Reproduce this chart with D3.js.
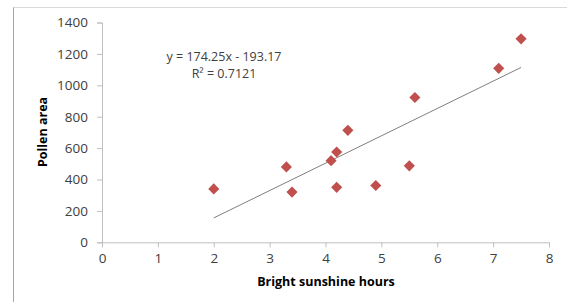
<!DOCTYPE html>
<html>
<head>
<meta charset="utf-8">
<script src="https://cdn.jsdelivr.net/npm/d3@7"></script>
<style>
	body { margin: 0; background: #fff; }
	svg text { font-family: "Open Sans", sans-serif; }
</style>
</head>
<body>
<svg id="chart" width="567" height="302"></svg>
<script>
// data
var sunshine = [ 2.0, 3.3, 3.4, 4.1, 4.2, 4.2, 4.4, 4.9, 5.5, 5.6, 7.1, 7.5 ];
var pollen   = [ 340, 480, 320, 520, 575, 350, 713, 362, 487, 922, 1108, 1296 ];
var xTicks   = [ 0, 1, 2, 3, 4, 5, 6, 7, 8 ];
var yTicks   = [ 0, 200, 400, 600, 800, 1000, 1200, 1400 ];
var trend    = { slope: 174.25, intercept: -193.17 };
var eqLines  = [ 'y = 174.25x - 193.17', 'R\u00b2 = 0.7121' ];

var svg    = d3.select( '#chart' );
var x      = d3.scaleLinear().domain( [ 0, 8 ] ).range( [ 102, 549 ] );
var y      = d3.scaleLinear().domain( [ 0, 1400 ] ).range( [ 242.3, 22.5 ] );
var axisC  = '#bfbfbf';
var textC  = '#404040';

// outer frame (top + left only visible)
svg.append( 'line' ).attr( 'x1', 13.5 ).attr( 'x2', 567 ).attr( 'y1', 7.5 ).attr( 'y2', 7.5 )
	.attr( 'stroke', '#d9d9d9' );
svg.append( 'line' ).attr( 'x1', 13.5 ).attr( 'x2', 13.5 ).attr( 'y1', 7.5 ).attr( 'y2', 302 )
	.attr( 'stroke', '#a6a6a6' );

// y axis
var yAxis = svg.append( 'g' )
	.attr( 'transform', 'translate(' + 102 + ',0)' )
	.call( d3.axisLeft( y ).tickValues( yTicks ).tickFormat( d3.format( 'd' ) ).tickSize( 5 ).tickPadding( 9 ) );
// x axis
var xAxis = svg.append( 'g' )
	.attr( 'transform', 'translate(0,' + y( 0 ) + ')' )
	.call( d3.axisBottom( x ).tickValues( xTicks ).tickFormat( d3.format( 'd' ) ).tickSize( 5 ).tickPadding( 6 ) );
[ yAxis, xAxis ].forEach( function( g ) {
	g.select( '.domain' ).attr( 'stroke', axisC );
	g.selectAll( '.tick line' ).attr( 'stroke', axisC );
	g.selectAll( '.tick text' )
		.attr( 'fill', textC )
		.style( 'font-size', '13.5px' )
		.style( 'font-family', '"Open Sans", sans-serif' );
} );

// trendline over the data range
var xr = d3.extent( sunshine );
svg.append( 'line' )
	.attr( 'x1', x( xr[ 0 ] ) )
	.attr( 'y1', y( trend.slope * xr[ 0 ] + trend.intercept ) )
	.attr( 'x2', x( xr[ 1 ] ) )
	.attr( 'y2', y( trend.slope * xr[ 1 ] + trend.intercept ) )
	.attr( 'stroke', '#7f7f7f' )
	.attr( 'stroke-width', 1 );

// points
var diamond = d3.symbol().type( d3.symbolSquare ).size( 62 );
svg.append( 'g' )
	.selectAll( 'path' )
	.data( sunshine.map( function( d, i ) { return [ d, pollen[ i ] ]; } ) )
	.join( 'path' )
	.attr( 'd', diamond )
	.attr( 'transform', function( d ) { return 'translate(' + x( d[ 0 ] ) + ',' + y( d[ 1 ] ) + ') rotate(45)'; } )
	.attr( 'fill', '#c0504d' );

// equation
svg.append( 'g' )
	.selectAll( 'text' )
	.data( eqLines )
	.join( 'text' )
	.attr( 'x', 224 )
	.attr( 'y', function( d, i ) { return 61 + i * 16.5; } )
	.attr( 'text-anchor', 'middle' )
	.attr( 'fill', textC )
	.style( 'font-size', '12.5px' )
	.text( function( d ) { return d; } );

// axis titles
svg.append( 'text' )
	.attr( 'x', 326 )
	.attr( 'y', 286 )
	.attr( 'text-anchor', 'middle' )
	.attr( 'fill', '#000' )
	.style( 'font-size', '12.5px' )
	.style( 'font-weight', 'bold' )
	.text( 'Bright sunshine  hours' );
svg.append( 'text' )
	.attr( 'transform', 'translate(47,132) rotate(-90)' )
	.attr( 'text-anchor', 'middle' )
	.attr( 'fill', '#000' )
	.style( 'font-size', '12.5px' )
	.style( 'font-weight', 'bold' )
	.text( 'Pollen area' );
</script>
</body>
</html>
